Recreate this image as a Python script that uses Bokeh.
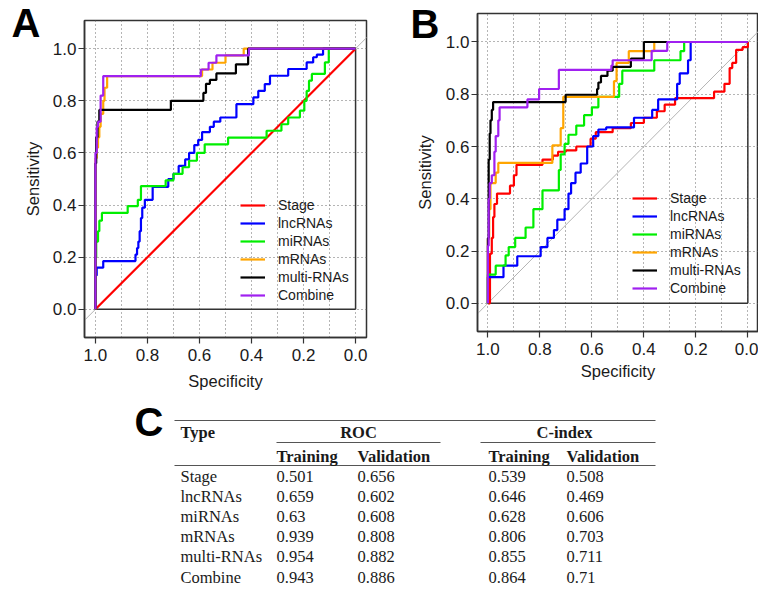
from bokeh.plotting import figure
from bokeh.layouts import column, row
from bokeh.models import (Range1d, FixedTicker, PrintfTickFormatter, Slope,
                          Legend, LegendItem)
from bokeh.embed import file_html
from bokeh.resources import INLINE
from bokeh.core.properties import value

# ---------------- data ----------------
SERIES = ["Stage", "lncRNAs", "miRNAs", "mRNAs", "multi-RNAs", "Combine"]
COLORS = ["#ff0000", "#0000ff", "#00ee00", "#ffa500", "#000000", "#a020f0"]

# Panel A (training) ROC: (specificity, sensitivity) at each rise of the curve
A_STAGE_SPEC = [1.0, 0.0]
A_STAGE_SENS = [0.0, 1.0]
A_LNC_SPEC = [1.0, 1.0, 0.995, 0.97, 0.846, 0.84, 0.835, 0.83, 0.825, 0.82, 0.81, 0.78, 0.72, 0.70,
              0.68, 0.655, 0.64, 0.62, 0.605, 0.59, 0.56, 0.545, 0.52, 0.458, 0.393, 0.374, 0.349,
              0.329, 0.259, 0.188, 0.163, 0.149, 0.125, 0.0]
A_LNC_SENS = [0.0, 0.13, 0.16, 0.185, 0.21, 0.235, 0.26, 0.30, 0.35, 0.39, 0.42, 0.47, 0.50, 0.52,
              0.55, 0.575, 0.60, 0.63, 0.65, 0.68, 0.70, 0.72, 0.736, 0.787, 0.813, 0.838, 0.864,
              0.896, 0.922, 0.947, 0.967, 0.977, 1.0, 1.0]
A_MI_SPEC = [1.0, 1.0, 0.997, 0.99, 0.985, 0.975, 0.876, 0.837, 0.825, 0.73, 0.70, 0.665, 0.64, 0.61,
             0.58, 0.49, 0.342, 0.285, 0.259, 0.214, 0.197, 0.188, 0.179, 0.168, 0.118, 0.103, 0.0]
A_MI_SENS = [0.0, 0.20, 0.26, 0.30, 0.34, 0.37, 0.396, 0.42, 0.473, 0.495, 0.52, 0.545, 0.57, 0.60,
             0.633, 0.659, 0.685, 0.71, 0.736, 0.762, 0.80, 0.838, 0.877, 0.903, 0.947, 1.0, 1.0]
A_M_SPEC = [1.0, 1.0, 0.995, 0.99, 0.985, 0.98, 0.97, 0.965, 0.955, 0.59, 0.55, 0.50, 0.43, 0.0]
A_M_SENS = [0.0, 0.58, 0.62, 0.66, 0.70, 0.75, 0.80, 0.85, 0.895, 0.92, 0.946, 0.974, 1.0, 1.0]
A_MULTI_SPEC = [1.0, 1.0, 0.997, 0.992, 0.985, 0.71, 0.585, 0.575, 0.56, 0.535, 0.46, 0.413, 0.0]
A_MULTI_SENS = [0.0, 0.56, 0.66, 0.72, 0.765, 0.80, 0.83, 0.865, 0.88, 0.905, 0.94, 1.0, 1.0]
A_COMB_SPEC = [1.0, 1.0, 0.995, 0.99, 0.98, 0.97, 0.595, 0.565, 0.535, 0.41, 0.0]
A_COMB_SENS = [0.0, 0.60, 0.70, 0.72, 0.82, 0.895, 0.92, 0.946, 0.974, 1.0, 1.0]

# Panel B (validation) ROC
B_STAGE_SPEC = [1.0, 0.992, 0.985, 0.98, 0.975, 0.965, 0.915, 0.90, 0.89, 0.79, 0.75, 0.73, 0.70,
                0.66, 0.605, 0.585, 0.52, 0.45, 0.40, 0.35, 0.32, 0.28, 0.13, 0.09, 0.07, 0.06,
                0.045, 0.02, 0.0]
B_STAGE_SENS = [0.0, 0.19, 0.25, 0.33, 0.38, 0.42, 0.45, 0.49, 0.53, 0.55, 0.565, 0.58, 0.585,
                0.60, 0.63, 0.655, 0.67, 0.69, 0.71, 0.735, 0.76, 0.785, 0.81, 0.84, 0.90, 0.92,
                0.97, 0.98, 1.0]
B_LNC_SPEC = [1.0, 1.0, 0.94, 0.887, 0.797, 0.771, 0.746, 0.733, 0.705, 0.69, 0.68, 0.663, 0.643,
              0.618, 0.595, 0.575, 0.545, 0.438, 0.368, 0.345, 0.272, 0.262, 0.23, 0.22, 0.0]
B_LNC_SENS = [0.0, 0.10, 0.144, 0.18, 0.215, 0.25, 0.28, 0.32, 0.36, 0.42, 0.46, 0.50, 0.535,
              0.60, 0.64, 0.665, 0.673, 0.71, 0.74, 0.78, 0.84, 0.88, 0.93, 1.0, 1.0]
B_MI_SPEC = [1.0, 1.0, 0.97, 0.932, 0.92, 0.895, 0.855, 0.825, 0.79, 0.727, 0.72, 0.705, 0.69,
             0.66, 0.63, 0.60, 0.575, 0.495, 0.483, 0.36, 0.259, 0.245, 0.0]
B_MI_SENS = [0.0, 0.11, 0.144, 0.183, 0.215, 0.25, 0.29, 0.36, 0.432, 0.51, 0.57, 0.61, 0.645,
             0.68, 0.72, 0.75, 0.79, 0.84, 0.89, 0.93, 0.965, 1.0, 1.0]
B_M_SPEC = [1.0, 1.0, 0.995, 0.99, 0.97, 0.96, 0.752, 0.72, 0.71, 0.515, 0.505, 0.458, 0.36, 0.0]
B_M_SENS = [0.0, 0.245, 0.36, 0.46, 0.50, 0.537, 0.604, 0.67, 0.79, 0.85, 0.92, 0.965, 1.0, 1.0]
B_MULTI_SPEC = [1.0, 1.0, 0.997, 0.993, 0.99, 0.985, 0.98, 0.701, 0.58, 0.575, 0.565, 0.54, 0.52,
                0.45, 0.40, 0.0]
B_MULTI_SENS = [0.0, 0.25, 0.55, 0.65, 0.70, 0.74, 0.77, 0.798, 0.82, 0.845, 0.87, 0.89, 0.905,
                0.936, 1.0, 1.0]
B_COMB_SPEC = [1.0, 1.0, 0.997, 0.993, 0.985, 0.975, 0.97, 0.96, 0.955, 0.848, 0.803, 0.727,
               0.525, 0.52, 0.37, 0.31, 0.0]
B_COMB_SENS = [0.0, 0.22, 0.40, 0.46, 0.49, 0.58, 0.64, 0.70, 0.75, 0.78, 0.82, 0.893, 0.91,
               0.93, 0.966, 1.0, 1.0]

# Panel C table
TABLE_TYPES = ["Stage", "lncRNAs", "miRNAs", "mRNAs", "multi-RNAs", "Combine"]
ROC_TRAINING = [0.501, 0.659, 0.63, 0.939, 0.954, 0.943]
ROC_VALIDATION = [0.656, 0.602, 0.608, 0.808, 0.882, 0.886]
CINDEX_TRAINING = [0.539, 0.646, 0.628, 0.806, 0.855, 0.864]
CINDEX_VALIDATION = [0.508, 0.469, 0.606, 0.703, 0.711, 0.71]

PANEL_LETTERS = ["A", "B", "C"]

AXIS_TICKS = [0.0, 0.2, 0.4, 0.6, 0.8, 1.0]
VGRID_TICKS = [0.0, 0.1, 0.2, 0.3, 0.4, 0.5, 0.6, 0.7, 0.8, 0.9, 1.0]

SANS = "Liberation Sans"
SERIF = "Liberation Serif"
TXT = "#1a1a1a"


def stair(spec, sens):
    """Expand rise points into the ROC staircase (horizontal, then vertical)."""
    xs, ys = [spec[0]], [sens[0]]
    for i in range(1, len(spec)):
        xs += [spec[i], spec[i]]
        ys += [sens[i - 1], sens[i]]
    return xs, ys


def roc_panel(curves, stepped, width, height, borders, margin, xr, yr,
              legend_xy, ylab_standoff, xlab_standoff):
    bl, br, bt, bb = borders
    p = figure(width=width, height=height, x_range=Range1d(*xr), y_range=Range1d(*yr),
               output_backend="svg", toolbar_location=None,
               min_border_left=bl, min_border_right=br, min_border_top=bt,
               min_border_bottom=bb, x_axis_label="Specificity",
               y_axis_label="Sensitivity", margin=margin)
    p.outline_line_color = "#333333"
    p.outline_line_width = 1.5
    p.background_fill_color = "white"
    p.border_fill_color = "white"

    p.xgrid.ticker = FixedTicker(ticks=VGRID_TICKS)
    p.ygrid.ticker = FixedTicker(ticks=AXIS_TICKS)
    for g in (p.xgrid, p.ygrid):
        g.grid_line_color = "#6a6a6a"
        g.grid_line_dash = "1 3"
        g.grid_line_width = 1

    for ax in (p.xaxis, p.yaxis):
        ax.ticker = FixedTicker(ticks=AXIS_TICKS)
        ax.formatter = PrintfTickFormatter(format="%.1f")
        ax.major_tick_out = 6
        ax.major_tick_in = 0
        ax.minor_tick_line_color = None
        ax.axis_line_color = "#333333"
        ax.axis_line_width = 1.5
        ax.major_tick_line_color = "#333333"
        ax.major_tick_line_width = 1.2
        ax.major_label_text_font = SANS
        ax.major_label_text_font_size = "17px"
        ax.major_label_text_color = TXT
        ax.axis_label_text_font = SANS
        ax.axis_label_text_font_size = "16.5px"
        ax.axis_label_text_font_style = "normal"
        ax.axis_label_text_color = TXT
    p.yaxis.major_label_standoff = 2
    p.xaxis.major_label_standoff = 5
    p.yaxis.axis_label_standoff = ylab_standoff
    p.xaxis.axis_label_standoff = xlab_standoff

    # chance diagonal
    p.add_layout(Slope(gradient=-1, y_intercept=1, line_color="#b4b4b4",
                       line_width=1, level="underlay"))

    # box around the unit square (right and bottom edges)
    all_spec = [v for c in curves for v in c[0]]
    all_sens = [v for c in curves for v in c[1]]
    lo_x, hi_x = min(all_spec), max(all_spec)
    lo_y, hi_y = min(all_sens), max(all_sens)
    p.segment(x0=[hi_x, lo_x], y0=[lo_y, lo_y], x1=[lo_x, lo_x], y1=[lo_y, hi_y],
              line_color="#333333", line_width=1.5)

    items = []
    for (spec, sens), st, name, col in zip(curves, stepped, SERIES, COLORS):
        xs, ys = stair(spec, sens) if st else (spec, sens)
        r = p.line(xs, ys, line_color=col, line_width=2.2)
        items.append(LegendItem(label=name, renderers=[r]))

    leg = Legend(items=items, location=legend_xy, glyph_width=25, glyph_height=18,
                 label_height=18, label_standoff=13, spacing=0, padding=0, margin=0,
                 border_line_color=None, background_fill_alpha=0,
                 label_text_font=SANS, label_text_font_size="14px",
                 label_text_color=TXT)
    p.add_layout(leg)
    return p


curves_a = [(A_STAGE_SPEC, A_STAGE_SENS), (A_LNC_SPEC, A_LNC_SENS), (A_MI_SPEC, A_MI_SENS),
            (A_M_SPEC, A_M_SENS), (A_MULTI_SPEC, A_MULTI_SENS), (A_COMB_SPEC, A_COMB_SENS)]
curves_b = [(B_STAGE_SPEC, B_STAGE_SENS), (B_LNC_SPEC, B_LNC_SENS), (B_MI_SPEC, B_MI_SENS),
            (B_M_SPEC, B_M_SENS), (B_MULTI_SPEC, B_MULTI_SENS), (B_COMB_SPEC, B_COMB_SENS)]

# A: frame 84..366 x 20..337 ; B: frame 477..758 x 13..331 (page pixels)
pA = roc_panel(curves_a, [False, True, True, True, True, True], 379, 392,
               (84, 13, 13, 62), (7, 0, 0, 0), (1.042, -0.042), (-0.108, 1.108),
               (156, 33), 8, 8)
pB = roc_panel(curves_b, [True] * 6, 379, 393,
               (98, 0, 13, 62), (0, 0, 0, 0), (1.04, -0.041), (-0.108, 1.109),
               (155, 34), 9, 4)
ROW_H = 399

# ---------------- overlay page: panel letters + table C ----------------
W, H = 758, 593
pC = figure(width=W, height=H, x_range=Range1d(0, W), y_range=Range1d(H, 0),
            output_backend="svg", toolbar_location=None, min_border=0,
            x_axis_location=None, y_axis_location=None, margin=(-ROW_H, 0, 0, 0))
pC.grid.visible = False
pC.outline_line_color = None
pC.background_fill_color = None
pC.border_fill_color = None

# text positions below are vertical centres (text_baseline="middle")
LETTER_X = [11, 410, 134]
LETTER_Y = [22.5, 23.5, 421]
pC.text(x=LETTER_X, y=LETTER_Y, text=PANEL_LETTERS, text_font=value(SANS),
        text_font_size="40px", text_font_style="bold", text_color="#000000",
        text_baseline="middle")

COL_X = [180, 276, 357, 488, 566]
ROW0, ROW_STEP = 475.5, 20.2
FS = "16.5px"

pC.segment(x0=[174, 276, 480, 174], y0=[420, 442, 442, 465],
           x1=[655, 440, 655, 655], y1=[420, 442, 442, 465],
           line_color="#555555", line_width=1.2)

pC.text(x=[COL_X[0]], y=[431.5], text=["Type"], text_font=value(SERIF), text_font_size=FS,
        text_font_style="bold", text_color=TXT, text_baseline="middle")
pC.text(x=[358, 564], y=[431.5, 431.5], text=["ROC", "C-index"], text_font=value(SERIF),
        text_font_size=FS, text_font_style="bold", text_color=TXT,
        text_baseline="middle", text_align="center")
pC.text(x=COL_X[1:], y=[455.5] * 4, text=["Training", "Validation", "Training", "Validation"],
        text_font=value(SERIF), text_font_size=FS, text_font_style="bold", text_color=TXT,
        text_baseline="middle")

row_y = [ROW0 + ROW_STEP * i for i in range(len(TABLE_TYPES))]
for cx, vals in zip(COL_X, [TABLE_TYPES, ROC_TRAINING, ROC_VALIDATION,
                            CINDEX_TRAINING, CINDEX_VALIDATION]):
    pC.text(x=[cx] * len(vals), y=row_y, text=[str(v) for v in vals],
            text_font=value(SERIF), text_font_size=FS, text_color=TXT,
            text_baseline="middle")

layout = column(row(pA, pB), pC)
open("out.html", "w").write(file_html(layout, INLINE))
